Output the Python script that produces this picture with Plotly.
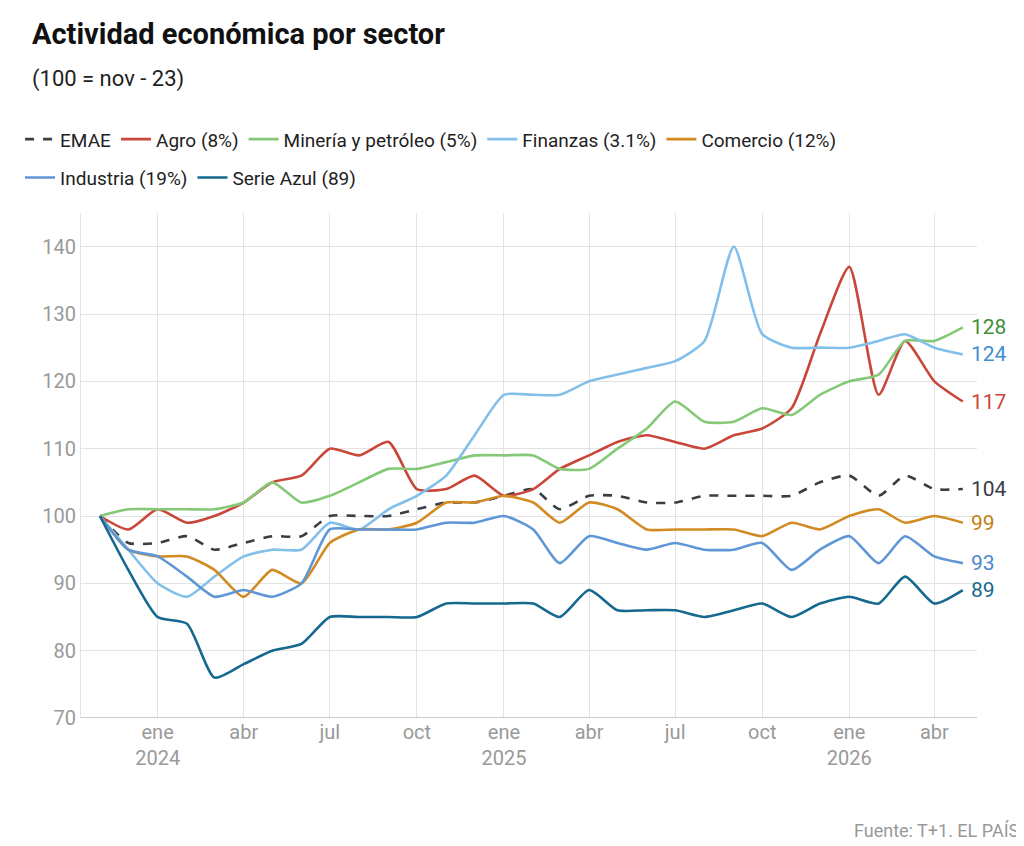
import pandas as pd
import plotly.graph_objects as go

months = pd.date_range("2023-11-01", "2026-05-01", freq="MS")

emae = [100, 96, 96, 97, 95, 96, 97, 97, 100, 100, 100, 101, 102, 102, 103, 104, 101, 103, 103, 102, 102, 103, 103, 103, 103, 105, 106, 103, 106, 104, 104]
agro = [100, 98, 101, 99, 100, 102, 105, 106, 110, 109, 111, 104, 104, 106, 103, 104, 107, 109, 111, 112, 111, 110, 112, 113, 116, 127, 137, 118, 126, 120, 117]
mineria = [100, 101, 101, 101, 101, 102, 105, 102, 103, 105, 107, 107, 108, 109, 109, 109, 107, 107, 110, 113, 117, 114, 114, 116, 115, 118, 120, 121, 126, 126, 128]
finanzas = [100, 95, 90, 88, 91, 94, 95, 95, 99, 98, 101, 103, 106, 112, 118, 118, 118, 120, 121, 122, 123, 126, 140, 127, 125, 125, 125, 126, 127, 125, 124]
comercio = [100, 95, 94, 94, 92, 88, 92, 90, 96, 98, 98, 99, 102, 102, 103, 102, 99, 102, 101, 98, 98, 98, 98, 97, 99, 98, 100, 101, 99, 100, 99]
industria = [100, 95, 94, 91, 88, 89, 88, 90, 98, 98, 98, 98, 99, 99, 100, 98, 93, 97, 96, 95, 96, 95, 95, 96, 92, 95, 97, 93, 97, 94, 93]
serie_azul = [100, 92, 85, 84, 76, 78, 80, 81, 85, 85, 85, 85, 87, 87, 87, 87, 85, 89, 86, 86, 86, 85, 86, 87, 85, 87, 88, 87, 91, 87, 89]

# name, values, line colour, dash, end-label colour, legend row
series = [
    ("EMAE", emae, "#3a3d45", "dash", "#3a3d45", "legend"),
    ("Agro (8%)", agro, "#c9473a", "solid", "#c9473a", "legend"),
    ("Minería y petróleo (5%)", mineria, "#85c978", "solid", "#3f8f3a", "legend"),
    ("Finanzas (3.1%)", finanzas, "#82bfea", "solid", "#3f8fcc", "legend"),
    ("Comercio (12%)", comercio, "#d18b22", "solid", "#c47f14", "legend"),
    ("Industria (19%)", industria, "#5e96d6", "solid", "#4a87cc", "legend2"),
    ("Serie Azul (89)", serie_azul, "#15698e", "solid", "#15698e", "legend2"),
]

fig = go.Figure()
for name, vals, color, dash, lab, leg in series:
    fig.add_trace(go.Scatter(x=months, y=vals, name=name, mode="lines", legend=leg,
                             line=dict(color=color, width=2.6, dash=dash, shape="spline", smoothing=0.6)))
    fig.add_annotation(x=months[-1], y=vals[-1], text=str(vals[-1]), xref="x", yref="y",
                       xanchor="left", xshift=6, showarrow=False,
                       font=dict(size=21, color=lab, family="Roboto"))

tickvals = pd.to_datetime(["2024-01-01", "2024-04-01", "2024-07-01", "2024-10-01",
                           "2025-01-01", "2025-04-01", "2025-07-01", "2025-10-01",
                           "2026-01-01", "2026-04-01"])
ticktext = ["ene<br>2024", "abr", "jul", "oct", "ene<br>2025", "abr", "jul", "oct", "ene<br>2026", "abr"]

legstyle = dict(orientation="h", xanchor="left", yanchor="middle", bgcolor="rgba(0,0,0,0)",
                font=dict(size=19, color="#222"), itemwidth=30)

fig.update_layout(
    width=1024, height=846,
    paper_bgcolor="white", plot_bgcolor="white",
    font=dict(family="Roboto", color="#222"),
    margin=dict(l=60, r=55, t=205, b=136),
    legend=dict(x=-0.068, y=1.146, **legstyle),
    legend2=dict(x=-0.068, y=1.07, **legstyle),
    xaxis=dict(range=["2023-10-12", "2026-05-16"], tickvals=tickvals, ticktext=ticktext,
               showgrid=True, gridcolor="#e3e3e3", tickfont=dict(size=20, color="#999"),
               zeroline=False, showline=False, ticks=""),
    yaxis=dict(range=[70, 145], tickvals=list(range(70, 141, 10)), showgrid=True,
               gridcolor="#e3e3e3", tickfont=dict(size=20, color="#999"), zeroline=False,
               showline=True, linecolor="#e3e3e3", ticks=""),
)
fig.add_shape(type="line", xref="paper", yref="y", x0=0, x1=1, y0=70, y1=70,
              line=dict(color="#bbb", width=1.5))
fig.add_annotation(text="<b>Actividad económica por sector</b>", xref="paper", yref="paper",
                   x=-0.057, y=1.355, xanchor="left", yanchor="middle", showarrow=False,
                   font=dict(size=29, color="#111"))
fig.add_annotation(text="(100 = nov - 23)", xref="paper", yref="paper",
                   x=-0.057, y=1.265, xanchor="left", yanchor="middle", showarrow=False,
                   font=dict(size=22, color="#222"))
fig.add_annotation(text="Fuente: T+1. EL PAÍS", xref="paper", yref="paper", x=1.05, y=-0.222,
                   xanchor="right", yanchor="middle", showarrow=False,
                   font=dict(size=18, color="#999"))

fig.write_html("out.html")
